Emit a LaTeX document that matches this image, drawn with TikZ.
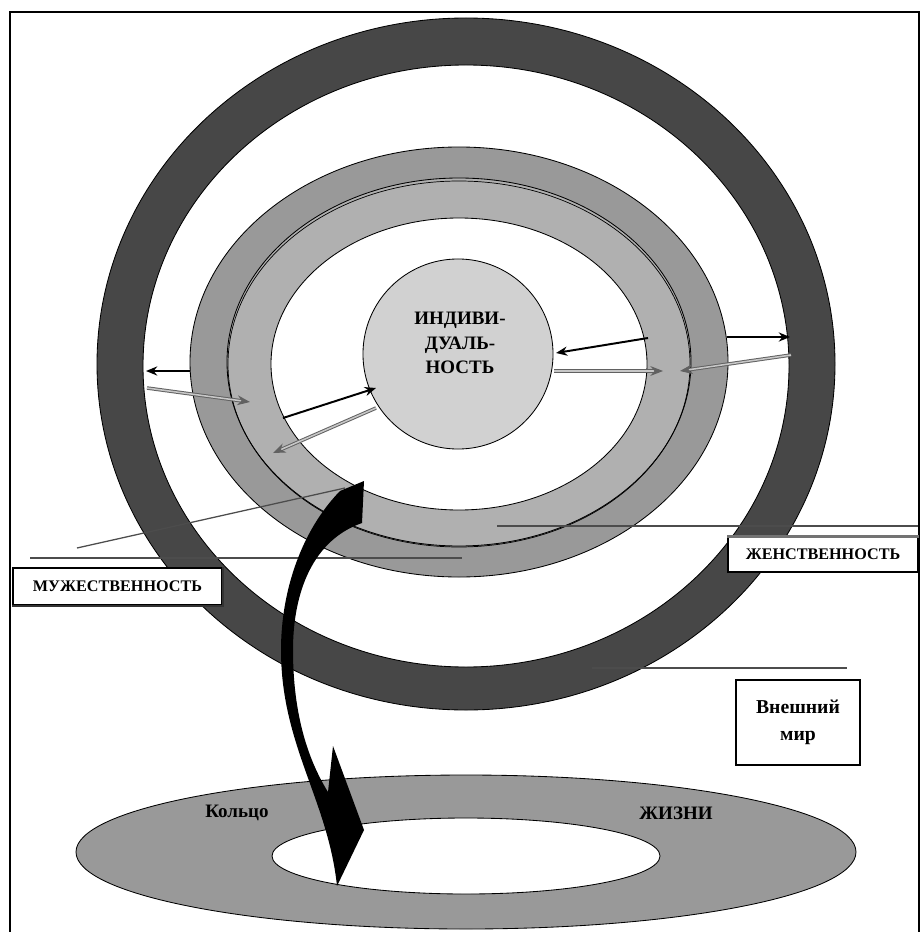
\documentclass[tikz,border=0pt]{standalone}
\usepackage{fontspec}
\setmainfont{Liberation Serif}
\usetikzlibrary{arrows.meta}
\begin{document}
\begin{tikzpicture}[x=0.025cm,y=-0.025cm,
  lbl/.style={font=\bfseries, inner sep=0pt, align=center},
  blk/.style={draw=black, line width=1.4pt, -{Stealth[length=8pt,width=6.5pt]}},
  gry/.style={draw=black!62, double=black!22, double distance=1.1pt, line width=0.7pt, -{Stealth[length=9pt,width=7pt]}},
  thinline/.style={draw=black!70, line width=0.9pt},
  ringline/.style={draw=black, line width=0.6pt},
  labelbox/.style={draw=black, line width=0.9pt, fill=white, inner sep=0pt, font=\bfseries, align=center}]
\useasboundingbox (0,0) rectangle (922,932);
\fill[white] (0,0) rectangle (922,932);
% frame
\draw[line width=1.5pt] (10,945) -- (10,12) -- (919,12) -- (919,945);
% dark outer ring
\fill[black!72, even odd rule] (466,364) ellipse [x radius=369, y radius=346]
  (466,366) ellipse [x radius=323, y radius=301];
\draw[ringline] (466,364) ellipse [x radius=369, y radius=346];
\draw[ringline] (466,366) ellipse [x radius=323, y radius=301];
% grey rings
\filldraw[fill=black!40, ringline] (459,362) ellipse [x radius=269, y radius=215];
\filldraw[fill=black!31, ringline] (459,362) ellipse [x radius=232, y radius=184];
\draw[line width=0.5pt] (459,364) ellipse [x radius=231, y radius=183];
\filldraw[fill=white, ringline] (459,364) ellipse [x radius=188, y radius=146];
% central circle
\node (ind) [circle, draw, line width=0.6pt, fill=black!18, minimum size=4.75cm, inner sep=0pt] at (458,354) {};
\node (indtext) [lbl, font=\bfseries\fontsize{13.5}{17.5}\selectfont] at (460,343) {ИНДИВИ-\\ДУАЛЬ-\\НОСТЬ};
% thin lines
\coordinate (l1a) at (77,548);  \coordinate (l1b) at (345,488);
\coordinate (l2a) at (30,558);  \coordinate (l2b) at (462,558);
\coordinate (l3a) at (497,526); \coordinate (l3b) at (918,526);
\coordinate (l4a) at (592,668); \coordinate (l4b) at (847,668);
\draw[thinline] (l1a) -- (l1b);
\draw[thinline, line width=1.3pt] (l2a) -- (l2b);
\draw[thinline] (l3a) -- (l3b);
\draw[thinline] (l4a) -- (l4b);
% small arrows, left
\coordinate (a1s) at (190,371); \coordinate (a1e) at (146,371);
\coordinate (a2s) at (147,388); \coordinate (a2e) at (250,402);
\coordinate (a3s) at (283,418); \coordinate (a3e) at (376,388);
\coordinate (a4s) at (376,408); \coordinate (a4e) at (273,453);
% small arrows, right
\coordinate (a5s) at (648,338); \coordinate (a5e) at (556,353);
\coordinate (a6s) at (554,371); \coordinate (a6e) at (663,371);
\coordinate (a7s) at (791,355); \coordinate (a7e) at (680,371);
\coordinate (a8s) at (727,337); \coordinate (a8e) at (790,337);
\draw[blk] (a1s) -- (a1e);
\draw[gry] (a2s) -- (a2e);
\draw[blk] (a3s) -- (a3e);
\draw[gry] (a4s) -- (a4e);
\draw[blk] (a5s) -- (a5e);
\draw[gry] (a6s) -- (a6e);
\draw[gry] (a7s) -- (a7e);
\draw[blk] (a8s) -- (a8e);
% label boxes
\node (muzh) [labelbox, minimum width=5.225cm, minimum height=0.925cm, font=\bfseries\fontsize{11.5}{13}\selectfont] at (117.5,586.5) {МУЖЕСТВЕННОСТЬ};
\draw[black!80, line width=1.6pt] (muzh.south west) -- (muzh.south east) -- (muzh.north east);
\node (zhen) [labelbox, minimum width=4.75cm, minimum height=0.875cm, font=\bfseries\fontsize{11.5}{13}\selectfont] at (823,554.5) {ЖЕНСТВЕННОСТЬ};
\draw[black!55, line width=2pt] (zhen.north west) -- (zhen.north east);
\node (mir) [labelbox, minimum width=3.1cm, minimum height=2.125cm, font=\bfseries\fontsize{14}{19.5}\selectfont] at (798,722.5) {Внешний\\мир};
% ring of life
\fill[black!40, even odd rule] (466,852) ellipse [x radius=390, y radius=77]
  (466,856) ellipse [x radius=194, y radius=38];
\draw[ringline] (466,852) ellipse [x radius=390, y radius=77];
\draw[ringline] (466,856) ellipse [x radius=194, y radius=38];
\node (kol) [lbl, font=\bfseries\fontsize{13.5}{16}\selectfont] at (237,813) {Кольцо};
\node (zhi) [lbl, font=\bfseries\fontsize{13.5}{16}\selectfont] at (676,813) {ЖИЗНИ};
% big curved arrow
\fill[black] (340,491)
  .. controls (302,530) and (281,590) .. (281,650)
  .. controls (281,745) and (328,800) .. (337,886)
  -- (364,830) -- (333,746) -- (328,792)
  .. controls (302,750) and (293,700) .. (293,650)
  .. controls (293,592) and (313,540) .. (362,523)
  -- (364,481) -- cycle;
\end{tikzpicture}
\end{document}
